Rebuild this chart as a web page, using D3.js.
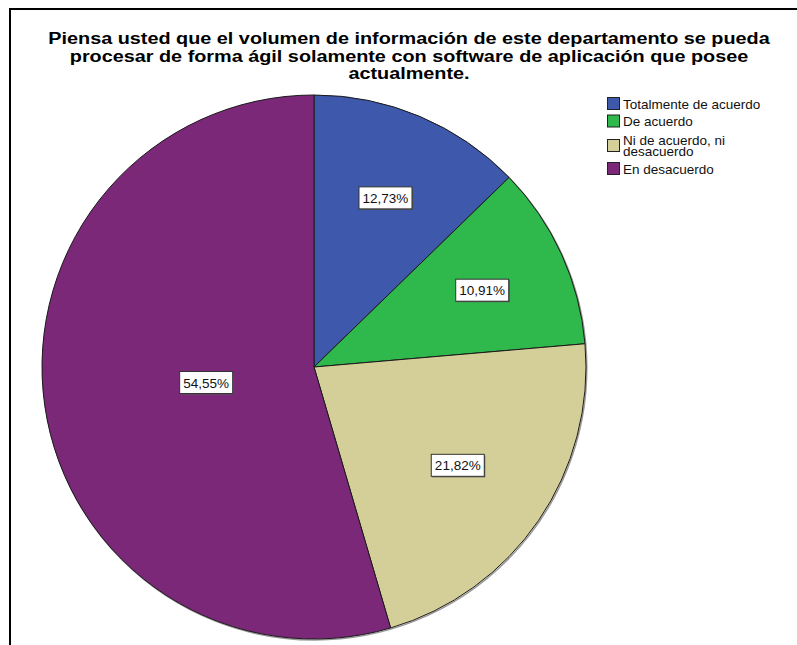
<!DOCTYPE html>
<html>
<head>
<meta charset="utf-8">
<script src="https://cdn.jsdelivr.net/npm/d3@7"></script>
<style>
  body { margin: 0; background: #fff; }
  text { font-family: "Liberation Sans", Arial, sans-serif; }
</style>
</head>
<body>
<div id="chart"></div>
<script>
// chart data
var categories = ["Totalmente de acuerdo", "De acuerdo", "Ni de acuerdo, ni desacuerdo", "En desacuerdo"];
var legendLines = [["Totalmente de acuerdo"], ["De acuerdo"], ["Ni de acuerdo, ni", "desacuerdo"], ["En desacuerdo"]];
var percents = [12.73, 10.91, 21.82, 54.55];
var colors = ["#3e58ac", "#2fb84b", "#d4cf98", "#7b2879"];
var titleLines = [
  "Piensa usted que el volumen de información de este departamento se pueda",
  "procesar de forma ágil solamente con software de aplicación que posee",
  "actualmente."
];

var width = 797, height = 645;
var cx = 314, cy = 367, radius = 272;

var svg = d3.select("#chart").append("svg")
  .attr("width", width)
  .attr("height", height);

// outer frame
svg.append("rect")
  .attr("x", 10).attr("y", 9)
  .attr("width", 820).attr("height", 700)
  .attr("fill", "none")
  .attr("stroke", "#000")
  .attr("stroke-width", 2);

// title (the original font is wide, so stretch it a little)
svg.append("text")
  .attr("transform", "translate(409,0) scale(1.14,1)")
  .attr("text-anchor", "middle")
  .style("font-size", "17.4px")
  .style("font-weight", "bold")
  .selectAll("tspan")
  .data(titleLines)
  .enter().append("tspan")
  .attr("x", 0)
  .attr("y", function(d, i) { return 44.3 + i * 17.4; })
  .text(function(d) { return d; });

var data = categories.map(function(c, i) {
  return {name: c, value: percents[i], color: colors[i]};
});

var pie = d3.pie()
  .sort(null)
  .value(function(d) { return d.value; });

var arc = d3.arc()
  .innerRadius(0)
  .outerRadius(radius);

var arcs = pie(data);

var g = svg.append("g")
  .attr("transform", "translate(" + cx + "," + cy + ")");

// soft shadow under the rim
g.append("circle")
  .attr("r", radius)
  .attr("cx", 0.8).attr("cy", 1)
  .attr("fill", "none")
  .attr("stroke", "#999")
  .attr("stroke-width", 1.5);

g.selectAll(".slice")
  .data(arcs)
  .enter().append("path")
  .attr("class", "slice")
  .attr("d", arc)
  .attr("fill", function(d) { return d.data.color; })
  .attr("stroke", "#1a1a1a")
  .attr("stroke-width", 1);

// labels near the centroid of each sector
function labelPos(d) {
  var a = d.endAngle - d.startAngle;
  var mid = (d.startAngle + d.endAngle) / 2;
  var r = 4 * radius * Math.sin(a / 2) / (3 * a) * 1.04;
  return [Math.sin(mid) * r, -Math.cos(mid) * r];
}

var fmt = function(v) { return v.toFixed(2).replace(".", ",") + "%"; };

var lab = g.selectAll(".lab")
  .data(arcs)
  .enter().append("g")
  .attr("class", "lab")
  .attr("transform", function(d) {
    var p = labelPos(d);
    return "translate(" + p[0] + "," + p[1] + ")";
  });

lab.append("rect")
  .attr("x", -25.5).attr("y", -10)
  .attr("width", 53).attr("height", 22)
  .attr("fill", "#555");
lab.append("rect")
  .attr("x", -26.5).attr("y", -11)
  .attr("width", 53).attr("height", 22)
  .attr("fill", "#fff")
  .attr("stroke", "#333")
  .attr("stroke-width", 1);
lab.append("text")
  .attr("text-anchor", "middle")
  .attr("y", 5)
  .style("font-size", "13.5px")
  .attr("fill", "#111")
  .text(function(d) { return fmt(d.data.value); });

// legend
var legendY = [103.5, 121, 145.5, 168.5];
var legend = svg.append("g");
var item = legend.selectAll(".item")
  .data(data)
  .enter().append("g")
  .attr("class", "item")
  .attr("transform", function(d, i) { return "translate(607," + legendY[i] + ")"; });

item.append("rect")
  .attr("x", 0.5).attr("y", -6)
  .attr("width", 12).attr("height", 12)
  .attr("fill", function(d) { return d.color; })
  .attr("stroke", "#222")
  .attr("stroke-width", 1);

item.append("text")
  .style("font-size", "13.5px")
  .attr("fill", "#111")
  .each(function(d, i) {
    var lines = legendLines[i];
    var t = d3.select(this);
    lines.forEach(function(l, j) {
      t.append("tspan")
        .attr("x", 16)
        .attr("y", 5 + (j - (lines.length - 1) / 2) * 11.5)
        .text(l);
    });
  });
</script>
</body>
</html>
